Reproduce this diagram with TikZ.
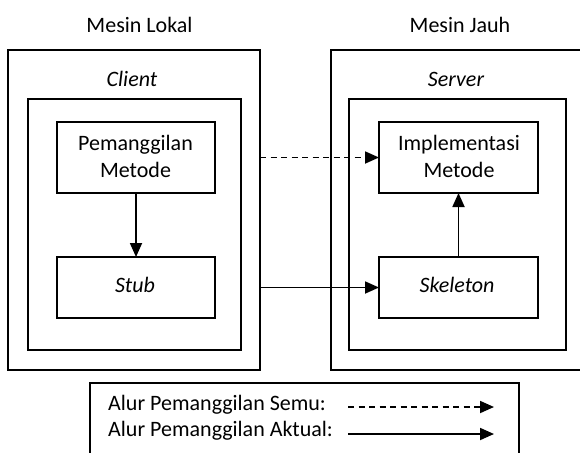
\documentclass[tikz,border=0pt]{standalone}
\usepackage{fontspec}
\setmainfont{Carlito}
\usetikzlibrary{arrows.meta}
\begin{document}
\begin{tikzpicture}[x=1pt,y=-1pt,
  box/.style 2 args={draw, line width=1.8pt, inner sep=0pt, outer sep=0pt, minimum width=#1pt, minimum height=#2pt},
  txt/.style={font=\fontsize{22}{26}\selectfont, anchor=base, inner sep=0pt},
  itxt/.style={txt, font=\fontsize{22}{26}\selectfont\itshape},
  ltxt/.style={txt, anchor=base west},
  conn/.style={line width=1.8pt, -{Triangle[length=14pt,width=12pt]}},
  dconn/.style={conn, dash pattern=on 6pt off 4.5pt}]
\useasboundingbox (0,0) rectangle (580,452);
\clip (0,0) rectangle (580,452);
% boxes
\node[box={252}{320}] (lo) at (134,210) {};
\node[box={279}{320}] (ro) at (470.5,210) {};
\node[box={213}{251}] (li) at (134.5,224.5) {};
\node[box={217}{251}] (ri) at (457.5,224.5) {};
\node[box={158}{71}] (pm) at (136,157.5) {};
\node[box={158}{61}] (st) at (136,287.5) {};
\node[box={159}{71}] (im) at (458.5,157.5) {};
\node[box={159}{61}] (sk) at (458.5,287.5) {};
\node[box={429}{94}] (lg) at (304.5,430) {};
% texts
\node[txt] (t1) at (139.5,33) {Mesin Lokal};
\node[txt] (t2) at (460,33) {Mesin Jauh};
\node[itxt] (tc) at (132,86) {Client};
\node[itxt] (ts) at (456,86) {Server};
\node[txt] (tp1) at (135.5,150) {Pemanggilan};
\node[txt] (tp2) at (135.5,177) {Metode};
\node[txt] (ti1) at (459,150) {Implementasi};
\node[txt] (ti2) at (459,177) {Metode};
\node[itxt] (tst) at (135,292) {Stub};
\node[itxt] (tsk) at (457,292) {Skeleton};
\node[ltxt] (l1) at (108,410) {Alur Pemanggilan Semu:};
\node[ltxt] (l2) at (108,436) {Alur Pemanggilan Aktual:};
% connectors
\draw[conn] (pm) -- (st);
\draw[conn] (sk) -- (im);
\draw[dconn] (lo.east |- im.west) -- (im.west);
\draw[conn] (lo.east |- sk.west) -- (sk.west);
% legend arrows
\coordinate (a1) at (348,407);
\coordinate (b1) at (494,407);
\coordinate (a2) at (348,434);
\coordinate (b2) at (494,434);
\draw[dconn] (a1) -- (b1);
\draw[conn] (a2) -- (b2);
\end{tikzpicture}
\end{document}
